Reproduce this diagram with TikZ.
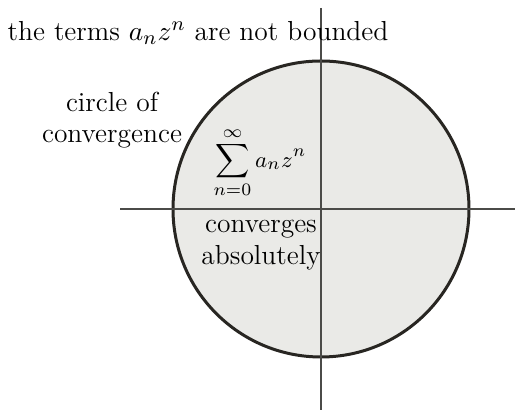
\documentclass[tikz,border=0pt]{standalone}
\usepackage{amsmath,amssymb}
\usepackage{xcolor}
\usepackage{tikz}

\definecolor{discfill}{RGB}{234,234,231}
\definecolor{rimcol}{RGB}{40,38,34}
\definecolor{axiscol}{RGB}{75,75,72}

\begin{document}
\begin{tikzpicture}[
  x=0.4pt, y=-0.4pt,
  lbl/.style={font=\fontsize{11}{12.5}\selectfont, inner sep=0pt, align=center},
  rim/.style={draw=rimcol, line width=1.2pt, fill=discfill},
  axis/.style={draw=axiscol, line width=0.45pt},
]
\useasboundingbox (0,0) rectangle (520,410);

\coordinate (O) at (321,209);
\coordinate (xl) at (120,209);
\coordinate (xr) at (515,209);
\coordinate (yt) at (321,8);
\coordinate (yb) at (321,410);

\path[rim] (O) circle (59.2pt);
\draw[axis] (xl) -- (xr);
\draw[axis] (yt) -- (yb);

\node[lbl] (bound) at (198,33) {the terms $a_n z^n$ are not bounded};
\node[lbl] (circ)  at (112,120) {circle of\\convergence};
\node[lbl, font=\fontsize{9.5}{11}\selectfont] (sum) at (260,163)
  {$\displaystyle\sum_{n=0}^{\infty} a_n z^n$};
\node[lbl] (conv)  at (261,245) {converges\\absolutely};
\end{tikzpicture}
\end{document}
